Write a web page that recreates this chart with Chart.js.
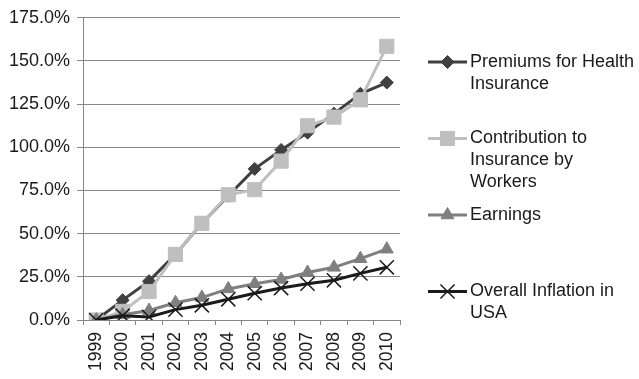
<!DOCTYPE html>
<html>
<head>
<meta charset="utf-8">
<script src="https://cdn.jsdelivr.net/npm/chart.js@4/dist/chart.umd.min.js"></script>
<style>
  html, body { margin: 0; padding: 0; background: #fff; }
  #wrap { width: 639px; height: 379px; }
</style>
</head>
<body>
<div id="wrap"><canvas id="myChart" width="639" height="379"></canvas></div>
<script>
const years = ['1999', '2000', '2001', '2002', '2003', '2004', '2005', '2006', '2007', '2008', '2009', '2010'];

// cumulative change since 1999, in percent
const premiums     = [0, 11.5, 22.5, 38, 56, 72, 87.5, 98.5, 108.5, 119.5, 131, 137.5];
const contribution = [0, 5, 16.5, 38, 56, 72.5, 75.5, 92, 112.5, 117.5, 127.5, 158.5];
const earnings     = [0, 3, 5.5, 10, 13, 18, 21, 23.5, 27.5, 30.5, 35.5, 41];
const inflation    = [0, 2.5, 1.8, 6, 8.5, 12, 15.5, 18.5, 21, 23, 27, 30.5];

const seriesNames = [
  ['Premiums for Health', 'Insurance'],
  ['Contribution to', 'Insurance by', 'Workers'],
  ['Earnings'],
  ['Overall Inflation in', 'USA']
];

const yTicks = { min: 0, max: 175, step: 25 };

const FONT = '"Liberation Sans", Arial, sans-serif';

// later series are painted over earlier ones
function series(idx, data, color, style, radius) {
  return {
    label: seriesNames[idx].join(' '),
    data: data,
    order: 10 - idx,
    borderColor: color,
    backgroundColor: color,
    borderWidth: 3,
    pointStyle: style,
    pointRadius: radius,
    pointHoverRadius: radius,
    pointBorderColor: color,
    pointBackgroundColor: color,
    pointBorderWidth: style === 'crossRot' ? 1.5 : 1,
    tension: 0
  };
}

// legend on the right, one slot per series, text wrapped by hand
const sideLegend = {
  id: 'sideLegend',
  afterDraw(chart) {
    const ctx = chart.ctx;
    const slots = [62, 138.5, 215, 291.5];
    ctx.save();
    chart.data.datasets.forEach((ds, i) => {
      const y = slots[i];
      ctx.strokeStyle = ds.borderColor;
      ctx.lineWidth = 3;
      ctx.beginPath();
      ctx.moveTo(428, y);
      ctx.lineTo(467, y);
      ctx.stroke();
      ctx.fillStyle = ds.pointBackgroundColor;
      ctx.strokeStyle = ds.pointBorderColor;
      ctx.lineWidth = ds.pointBorderWidth;
      Chart.helpers.drawPoint(ctx, { pointStyle: ds.pointStyle, radius: ds.pointRadius, rotation: 0, borderWidth: ds.pointBorderWidth }, 447.5, y);
      ctx.fillStyle = '#1a1a1a';
      ctx.font = '18px ' + FONT;
      ctx.textBaseline = 'middle';
      ctx.textAlign = 'left';
      seriesNames[i].forEach((line, k) => ctx.fillText(line, 470, y + k * 22));
    });
    ctx.restore();
  }
};

new Chart(document.getElementById('myChart').getContext('2d'), {
  type: 'line',
  data: {
    labels: years,
    datasets: [
      series(0, premiums, '#404040', 'rectRot', 6.5),
      series(1, contribution, '#bfbfbf', 'rect', 10),
      series(2, earnings, '#7f7f7f', 'triangle', 7.5),
      series(3, inflation, '#1a1a1a', 'crossRot', 10)
    ]
  },
  options: {
    responsive: false,
    animation: false,
    layout: { padding: { left: 0, right: 239, top: 9, bottom: 0 } },
    plugins: { legend: { display: false }, tooltip: { enabled: false } },
    scales: {
      x: {
        offset: true,
        grid: { offset: true, drawOnChartArea: false, drawTicks: true, tickLength: 5, color: '#888' },
        border: { color: '#888', width: 1 },
        ticks: {
          color: '#1a1a1a', font: { family: FONT, size: 17.5 },
          minRotation: 90, maxRotation: 90, autoSkip: false, padding: 7
        },
        afterFit(scale) { scale.height = 59; }
      },
      y: {
        min: yTicks.min, max: yTicks.max,
        grid: { color: '#888', lineWidth: 1, tickLength: 6 },
        border: { color: '#888', width: 1 },
        ticks: {
          stepSize: yTicks.step,
          color: '#1a1a1a', font: { family: FONT, size: 18 }, padding: 7,
          callback: v => v.toFixed(1) + '%'
        },
        afterFit(scale) { scale.width = 83; }
      }
    }
  },
  plugins: [sideLegend]
});
</script>
</body>
</html>
